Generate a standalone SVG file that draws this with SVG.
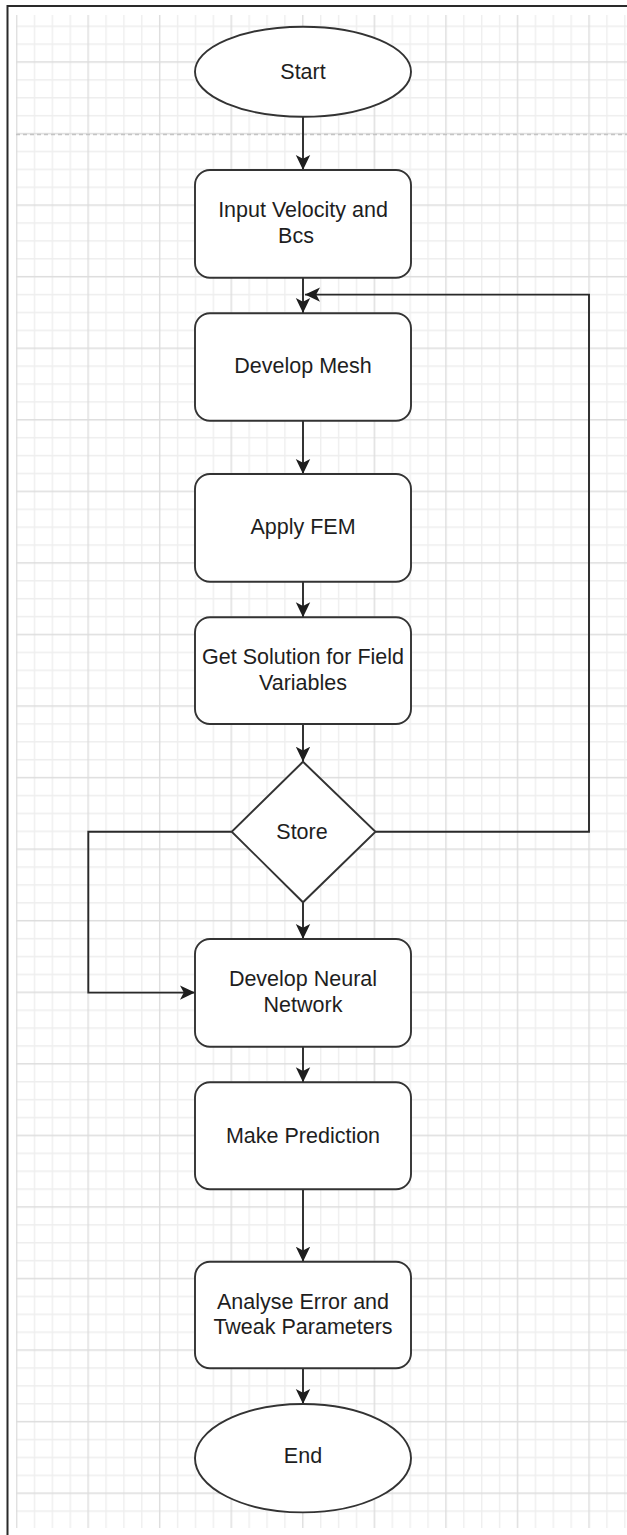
<svg xmlns="http://www.w3.org/2000/svg" width="627" height="1535" viewBox="0 0 627 1535">
<style>
.shape{fill:#ffffff;stroke:#333333;stroke-width:1.9}
.edge{fill:none;stroke:#2a2a2a;stroke-width:1.9}
.lbl{font-family:"Liberation Sans",Arial,sans-serif;font-size:21.5px;fill:#1e1e1e;text-anchor:middle}
</style>
<defs>
<pattern id="grid" patternUnits="userSpaceOnUse" x="15.85" y="61.25" width="71.56" height="71.56">
<path d="M18.64,0V71.56M36.53,0V71.56M54.42,0V71.56M0,18.64H71.56M0,36.53H71.56M0,54.42H71.56" stroke="#eeeeee" stroke-width="1.3" fill="none"/>
<path d="M0.75,0V71.56M0,0.75H71.56" stroke="#dddddd" stroke-width="1.4" fill="none"/>
</pattern>
<marker id="arr" markerUnits="userSpaceOnUse" markerWidth="16" markerHeight="16" viewBox="0 0 16 16" refX="15" refY="8" orient="auto">
<path d="M0,0.8 L15,8 L0,15.2 L3.8,8 Z" fill="#1e1e1e"/>
</marker>
</defs>
<rect x="0" y="0" width="627" height="1535" fill="#ffffff"/>
<rect x="16" y="15" width="611" height="1513" fill="url(#grid)"/>
<line x1="16" y1="134.5" x2="627" y2="134.5" stroke="#c4c4c4" stroke-width="1.5" stroke-dasharray="4 3"/>
<rect x="7.5" y="6" width="640" height="1560" fill="none" stroke="#2a2a2a" stroke-width="2"/>

<g id="connectors">
<path class="edge" d="M303,116.7V170" marker-end="url(#arr)"/>
<path class="edge" d="M303,277.7V313" marker-end="url(#arr)"/>
<path class="edge" d="M375.5,831.7H589V294.6H305" marker-end="url(#arr)"/>
<path class="edge" d="M303,420.7V474" marker-end="url(#arr)"/>
<path class="edge" d="M303,581.7V617.3" marker-end="url(#arr)"/>
<path class="edge" d="M303,724V761.7" marker-end="url(#arr)"/>
<path class="edge" d="M303,902.3V939" marker-end="url(#arr)"/>
<path class="edge" d="M231.7,831.7H88.3V992.6H195" marker-end="url(#arr)"/>
<path class="edge" d="M303,1046.7V1082.3" marker-end="url(#arr)"/>
<path class="edge" d="M303,1189.3V1261.7" marker-end="url(#arr)"/>
<path class="edge" d="M303,1368.3V1404" marker-end="url(#arr)"/>
</g>

<g id="start">
<ellipse class="shape" cx="303" cy="71.7" rx="108" ry="45"/>
<text class="lbl" x="303" y="78.5">Start</text>
</g>
<g id="input">
<rect class="shape" x="195" y="170" width="216" height="107.7" rx="15"/>
<text class="lbl" x="303" y="216.7">Input Velocity and</text>
<text class="lbl" x="296" y="242.7">Bcs</text>
</g>
<g id="mesh">
<rect class="shape" x="195" y="313.3" width="216" height="107.4" rx="15"/>
<text class="lbl" x="303" y="373">Develop Mesh</text>
</g>
<g id="fem">
<rect class="shape" x="195" y="474" width="216" height="107.7" rx="15"/>
<text class="lbl" x="303" y="534.4">Apply FEM</text>
</g>
<g id="solution">
<rect class="shape" x="195" y="617.3" width="216" height="106.7" rx="15"/>
<text class="lbl" x="303" y="664.4">Get Solution for Field</text>
<text class="lbl" x="303" y="689.6">Variables</text>
</g>
<g id="store">
<polygon class="shape" points="303,761.7 375.5,831.7 303,902.3 231.7,831.7"/>
<text class="lbl" x="302" y="839.4">Store</text>
</g>
<g id="neural">
<rect class="shape" x="195" y="939" width="216" height="107.7" rx="15"/>
<text class="lbl" x="303" y="986">Develop Neural</text>
<text class="lbl" x="303" y="1011.7">Network</text>
</g>
<g id="predict">
<rect class="shape" x="195" y="1082.3" width="216" height="107" rx="15"/>
<text class="lbl" x="303" y="1142.7">Make Prediction</text>
</g>
<g id="analyse">
<rect class="shape" x="195" y="1261.7" width="216" height="106.6" rx="15"/>
<text class="lbl" x="303" y="1308.8">Analyse Error and</text>
<text class="lbl" x="303" y="1333.5">Tweak Parameters</text>
</g>
<g id="end">
<ellipse class="shape" cx="303" cy="1458.2" rx="108" ry="54.2"/>
<text class="lbl" x="303" y="1462.7">End</text>
</g>
</svg>
